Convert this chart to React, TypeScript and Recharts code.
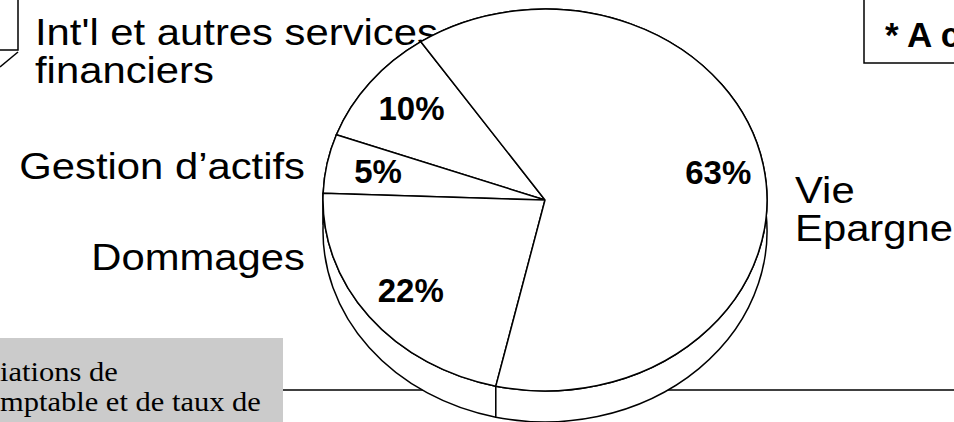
import React from 'react';
import { PieChart, Pie } from 'recharts';

// slice names (line breaks as on the slide) and their shares in %
const categories = ["Int'l et autres services\nfinanciers", 'Gestion d’actifs', 'Dommages', 'Vie\nEpargne'];
const shares = [10, 5, 22, 63];
const noteText = '* A c';
const footnoteLines = ['iations de', 'mptable et de taux de'];

const pieData = categories.map((name, i) => ({ name, value: shares[i] }));

const TILT = 0.86; // vertical squash of the pie (3D look)
const DEPTH = 31; // thickness of the pie edge
const START = 124;
const SANS = '"Liberation Sans", Arial, sans-serif';

const toPt = (cx: number, cy: number, rx: number, ry: number, deg: number) => {
  const r = (deg * Math.PI) / 180;
  return [cx + rx * Math.cos(r), cy - ry * Math.sin(r)];
};

function FaceShape(props: any) {
  const { cx, cy, outerRadius, startAngle, endAngle } = props;
  const rx = outerRadius;
  const ry = outerRadius * TILT;
  const [x1, y1] = toPt(cx, cy, rx, ry, startAngle);
  const [x2, y2] = toPt(cx, cy, rx, ry, endAngle);
  const large = Math.abs(endAngle - startAngle) > 180 ? 1 : 0;
  const sweep = endAngle > startAngle ? 0 : 1;
  return (
    <path
      d={`M${cx},${cy}L${x1},${y1}A${rx},${ry} 0 ${large} ${sweep} ${x2},${y2}Z`}
      fill="#fff"
      stroke="#000"
      strokeWidth={1.5}
      strokeLinejoin="round"
    />
  );
}

function EdgeShape(props: any) {
  const { cx, cy, outerRadius, startAngle, endAngle } = props;
  const rx = outerRadius;
  const ry = outerRadius * TILT;
  const [x1, y1] = toPt(cx, cy, rx, ry, startAngle);
  const [x2, y2] = toPt(cx, cy, rx, ry, endAngle);
  const large = Math.abs(endAngle - startAngle) > 180 ? 1 : 0;
  const sweep = endAngle > startAngle ? 0 : 1;
  const d =
    `M${x1},${y1}L${x1},${y1 + DEPTH}` +
    `A${rx},${ry} 0 ${large} ${sweep} ${x2},${y2 + DEPTH}` +
    `L${x2},${y2}A${rx},${ry} 0 ${large} ${1 - sweep} ${x1},${y1}Z`;
  return <path d={d} fill="#fff" stroke="#000" strokeWidth={1.5} strokeLinejoin="round" />;
}

const renderPct = (p: any) => {
  const { cx, cy, outerRadius, midAngle, value } = p;
  const k = 0.78;
  const [x, y] = toPt(cx, cy, outerRadius * k, outerRadius * TILT * k, midAngle);
  return (
    <text
      key={`pct-${value}`}
      x={x + 3}
      y={y}
      textAnchor="middle"
      dominantBaseline="central"
      fontFamily={SANS}
      fontWeight="bold"
      fontSize={33}
      fill="#000"
    >
      {value}%
    </text>
  );
};

// where each category label sits on the slide
const labelSpots = [
  { x: 35, y: 45, anchor: 'start' },
  { x: 305, y: 179, anchor: 'end' },
  { x: 305, y: 270, anchor: 'end' },
  { x: 795, y: 203, anchor: 'start' },
];

export default function App() {
  return (
    <div style={{ position: 'relative', width: 954, height: 422, overflow: 'hidden', background: '#fff' }}>
      <style>{'body{margin:0;overflow:hidden}'}</style>
      <svg width={954} height={422} style={{ position: 'absolute', left: 0, top: 0 }}>
        {/* slide decorations */}
        <line x1={283} y1={390} x2={954} y2={390} stroke="#000" strokeWidth={1.5} />
        <polyline points="0,50 18,50 18,-2" fill="none" stroke="#000" strokeWidth={1.5} />
        <line x1={18} y1={52} x2={0} y2={67} stroke="#000" strokeWidth={1.5} />
        <rect x={864} y={-2} width={100} height={65} fill="#fff" stroke="#000" strokeWidth={1.5} />
        <text x={885} y={47} fontFamily={SANS} fontWeight="bold" fontSize={35} fill="#000">
          {noteText}
        </text>
        <rect x={0} y={338} width={283} height={90} fill="#cbcbcb" />
        {footnoteLines.map((t, i) => (
          <text
            key={t}
            transform={`translate(0,${381 + i * 30}) scale(1.13,1)`}
            fontFamily='"Liberation Serif", "Times New Roman", serif'
            fontSize={27}
            fill="#000"
          >
            {t}
          </text>
        ))}
        {categories.map((c, i) =>
          c.split('\n').map((line, j) => (
            <text
              key={`${i}-${j}`}
              transform={`translate(${labelSpots[i].x},${labelSpots[i].y + j * 38}) scale(1.13,1)`}
              textAnchor={labelSpots[i].anchor as any}
              fontFamily={SANS}
              fontSize={37}
              fill="#000"
            >
              {line}
            </text>
          ))
        )}
      </svg>
      <div style={{ position: 'absolute', left: 0, top: 0 }}>
        <PieChart width={954} height={422} margin={{ top: 0, right: 0, bottom: 0, left: 0 }}>
          <Pie
            data={pieData}
            dataKey="value"
            nameKey="name"
            cx={545}
            cy={200}
            outerRadius={222}
            startAngle={START}
            endAngle={START + 360}
            stroke="#000"
            fill="#fff"
            shape={EdgeShape}
            isAnimationActive={false}
          />
          <Pie
            data={pieData}
            dataKey="value"
            nameKey="name"
            cx={545}
            cy={200}
            outerRadius={222}
            startAngle={START}
            endAngle={START + 360}
            stroke="#000"
            fill="#fff"
            shape={FaceShape}
            label={renderPct}
            labelLine={false}
            isAnimationActive={false}
          />
        </PieChart>
      </div>
    </div>
  );
}
